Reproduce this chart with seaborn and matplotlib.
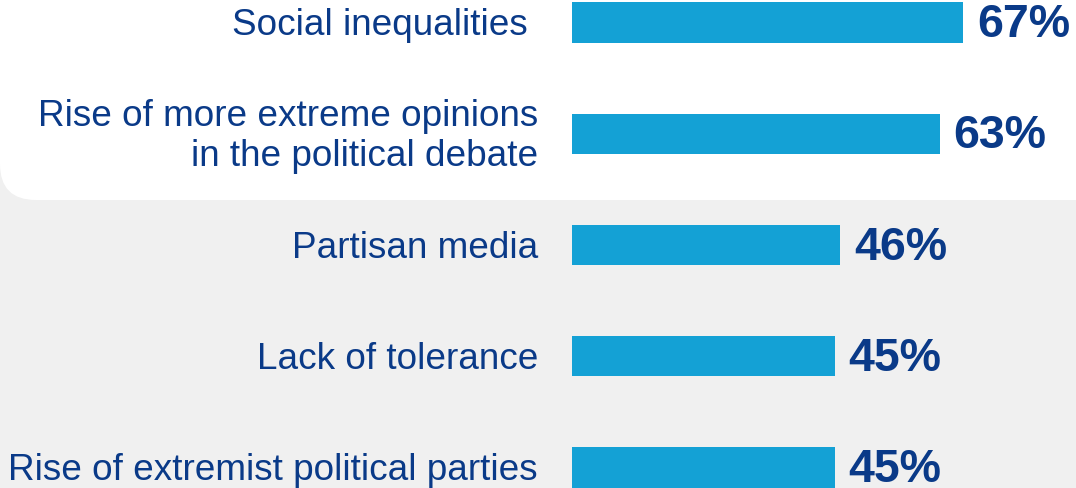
import matplotlib
matplotlib.use("Agg")
import matplotlib.pyplot as plt
from matplotlib.patches import FancyBboxPatch
from matplotlib.transforms import IdentityTransform
import seaborn as sns
import pandas as pd

categories = [
    "Social inequalities",
    "Rise of more extreme opinions\nin the political debate",
    "Partisan media",
    "Lack of tolerance",
    "Rise of extremist political parties",
]
values = [67, 63, 46, 45, 45]
value_labels = ["67%", "63%", "46%", "45%", "45%"]

BAR = "#14A1D5"
TXT = "#0A3A88"

sns.set_theme(style="white")
plt.rcParams["font.family"] = ["Liberation Sans", "DejaVu Sans"]

W, H, DPI = 1076, 488, 100
fig = plt.figure(figsize=(W / DPI, H / DPI), dpi=DPI, facecolor="#F0F0F0")

# white rounded panel at top (pixel coordinates)
panel = FancyBboxPatch((0, H - 200), 1300, 400,
                       boxstyle="round,pad=0,rounding_size=36",
                       transform=IdentityTransform(), facecolor="white",
                       edgecolor="none", zorder=0)
fig.patches.append(panel)

ax = fig.add_axes([0, 0, 1, 1])
ax.set_zorder(2)
ax.patch.set_alpha(0)

df = pd.DataFrame({"cat": categories, "val": values})
sns.barplot(data=df, x="val", y="cat", orient="h", color=BAR,
            width=0.36, saturation=1, linewidth=0, edgecolor="none", ax=ax)

pxu = 5.836  # pixels per percent
x0 = 572
ax.set_xlim(-x0 / pxu, (W - x0) / pxu)
spacing = 111.25
ax.set_ylim(4 + (H - 467.5) / spacing, -22.5 / spacing)
dy = 3 / spacing
pct_fs = 33.5
pct_base = 14.5 / spacing

for i, (c, v, lab) in enumerate(zip(categories, values, value_labels)):
    right = 528 if i == 0 else 538
    ax.text((right - x0) / pxu, i + dy, c, ha="right", va="center",
            fontsize=26.6, color=TXT, linespacing=1.2)
    ax.text(v + 14 / pxu, i + pct_base, lab, ha="left", va="baseline",
            fontsize=pct_fs, fontweight="bold", color=TXT)

ax.set_axis_off()
fig.savefig("out.png", dpi=DPI, facecolor=fig.get_facecolor())
